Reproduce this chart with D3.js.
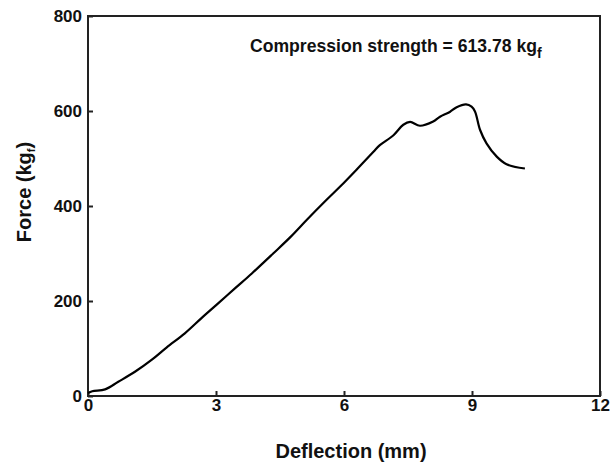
<!DOCTYPE html>
<html>
<head>
<meta charset="utf-8">
<script src="https://cdn.jsdelivr.net/npm/d3@7"></script>
<style>
  body { margin: 0; background: #fff; }
  svg { display: block; font-family: "Liberation Sans", Arial, sans-serif; }
  .axis text { font-size: 17px; font-weight: bold; fill: #111; }
  .axis line { stroke: #222; stroke-width: 2; }
  .axis .domain { display: none; }
</style>
</head>
<body>
<div id="chart"></div>
<script>
// Force vs deflection
let deflection = [0, 0.1, 0.4, 0.71, 1.1, 1.49, 1.84, 2.27, 2.66, 3.05, 3.45, 3.84, 4.34, 4.76, 5.13, 5.58, 5.91, 6.32, 6.69, 6.84, 7.16, 7.39, 7.55, 7.78, 8.09, 8.25, 8.48, 8.64, 8.86, 8.99, 9.07, 9.19, 9.34, 9.58, 9.81, 10.24]
let force = [6, 10, 14, 30, 51, 76, 102, 132, 164, 195, 227, 258, 300, 336, 371, 412, 441, 479, 514, 528, 549, 571, 577, 569, 578, 588, 598, 608, 614, 609, 599, 560, 532, 504, 488, 479]

let xTicks = [0, 3, 6, 9, 12]
let yTicks = [0, 200, 400, 600, 800]

let margin = { top: 16, left: 88, right: 10, bottom: 69 }
let width = 610 - margin.left - margin.right
let height = 465 - margin.top - margin.bottom

let svg = d3.select('#chart')
  .append('svg')
  .attr('width', 610)
  .attr('height', 465)

let g = svg.append('g')
  .attr('transform', 'translate(' + margin.left + ',' + margin.top + ')')

let xPositionScale = d3.scaleLinear().domain([0, 12]).range([0, width])
let yPositionScale = d3.scaleLinear().domain([0, 800]).range([height, 0])

// Axes (ticks point inward)
let xAxis = d3.axisBottom(xPositionScale).tickValues(xTicks).tickSizeInner(-5).tickSizeOuter(0).tickPadding(3)
g.append('g')
  .attr('class', 'axis x-axis')
  .attr('transform', 'translate(0,' + height + ')')
  .call(xAxis)

let yAxis = d3.axisLeft(yPositionScale).tickValues(yTicks).tickSizeInner(-5).tickSizeOuter(0).tickPadding(6)
g.append('g')
  .attr('class', 'axis y-axis')
  .call(yAxis)

// Frame
g.append('rect')
  .attr('x', 0)
  .attr('y', 0)
  .attr('width', width)
  .attr('height', height)
  .attr('fill', 'none')
  .attr('stroke', '#222')
  .attr('stroke-width', 2)

// Curve
let points = deflection.map((d, i) => [d, force[i]])
let line = d3.line()
  .x(d => xPositionScale(d[0]))
  .y(d => yPositionScale(d[1]))
  .curve(d3.curveCatmullRom.alpha(0.5))

g.append('path')
  .datum(points)
  .attr('d', line)
  .attr('fill', 'none')
  .attr('stroke', '#000')
  .attr('stroke-width', 2.2)
  .attr('stroke-linejoin', 'round')

// Axis titles
svg.append('text')
  .attr('x', margin.left + width / 2 + 7)
  .attr('y', 458)
  .attr('text-anchor', 'middle')
  .attr('font-size', 20)
  .attr('font-weight', 'bold')
  .attr('fill', '#111')
  .text('Deflection (mm)')

let yLabel = svg.append('text')
  .attr('transform', 'translate(31,192) rotate(-90)')
  .attr('text-anchor', 'middle')
  .attr('font-size', 20)
  .attr('font-weight', 'bold')
  .attr('fill', '#111')
yLabel.append('tspan').text('Force  (kg')
yLabel.append('tspan').attr('font-size', 11).attr('dy', 4).text('f')
yLabel.append('tspan').attr('dy', -4).text(')')

// Annotation
let note = svg.append('text')
  .attr('x', 250)
  .attr('y', 52)
  .attr('font-size', 17.6)
  .attr('font-weight', 'bold')
  .attr('fill', '#111')
note.append('tspan').text('Compression strength = 613.78 kg')
note.append('tspan').attr('font-size', 14).attr('dy', 6).text('f')
</script>
</body>
</html>
